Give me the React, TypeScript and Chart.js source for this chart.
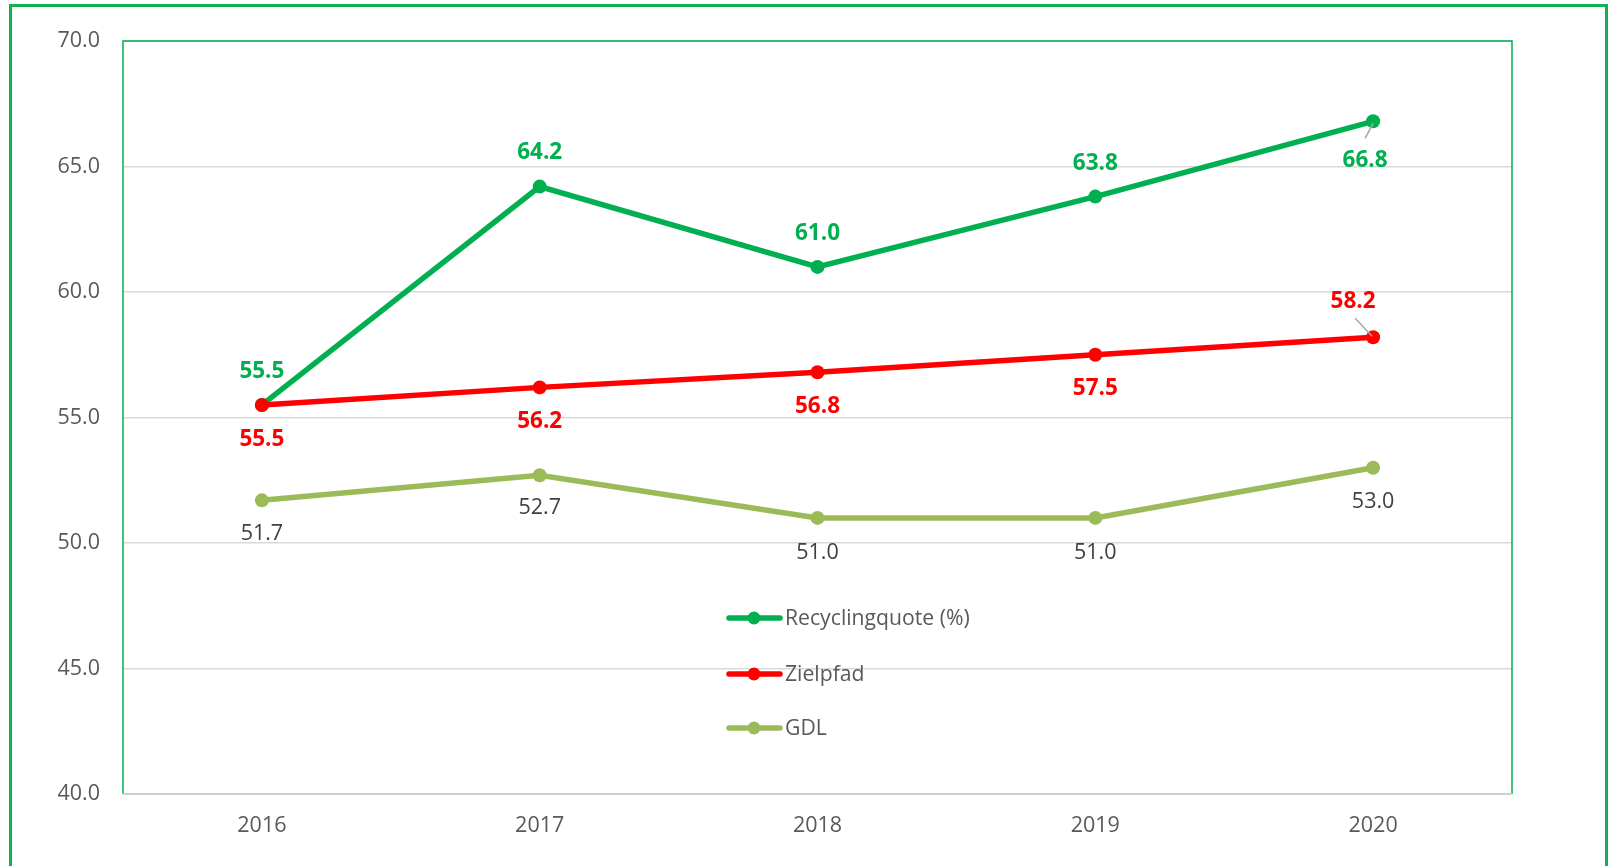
import React, { useEffect, useRef } from "react";
import { Chart, registerables } from "chart.js";

Chart.register(...registerables);

const years = ["2016", "2017", "2018", "2019", "2020"];
const recycling = [55.5, 64.2, 61.0, 63.8, 66.8];
const zielpfad = [55.5, 56.2, 56.8, 57.5, 58.2];
const gdl = [51.7, 52.7, 51.0, 51.0, 53.0];
const seriesNames = ["Recyclingquote (%)", "Zielpfad", "GDL"];

const GREEN = "#00b050";
const RED = "#ff0000";
const OLIVE = "#9bbb59";
const TEXT = "#595959";
const FONT = "'Open Sans', Lato, sans-serif";

// label placement (style only): dx, dy from point, leader line flag
const labelPlacement = [
  [{ dx: 0, dy: -33 }, { dx: 0, dy: -34 }, { dx: 0, dy: -33 }, { dx: 0, dy: -33 }, { dx: -8, dy: 39, leader: true }],
  [{ dx: 0, dy: 35 }, { dx: 0, dy: 34 }, { dx: 0, dy: 34 }, { dx: 0, dy: 34 }, { dx: -20, dy: -36, leader: true }],
  [{ dx: 0, dy: 34 }, { dx: 0, dy: 33 }, { dx: 0, dy: 35 }, { dx: 0, dy: 35 }, { dx: 0, dy: 34 }],
];
const labelStyle = [
  { color: GREEN, weight: "bold", size: 22.5 },
  { color: RED, weight: "bold", size: 22.5 },
  { color: "#404040", weight: "normal", size: 21.5 },
];

const frame = {
  id: "frame",
  beforeDatasetsDraw(chart: any) {
    const { ctx, chartArea: a } = chart;
    ctx.save();
    ctx.lineWidth = 1.5;
    ctx.strokeStyle = GREEN;
    ctx.beginPath();
    ctx.moveTo(a.left, a.bottom);
    ctx.lineTo(a.left, a.top);
    ctx.lineTo(a.right, a.top);
    ctx.lineTo(a.right, a.bottom);
    ctx.stroke();
    ctx.strokeStyle = "#c9d3ce";
    ctx.lineWidth = 2;
    ctx.beginPath();
    ctx.moveTo(a.left, a.bottom);
    ctx.lineTo(a.right, a.bottom);
    ctx.stroke();
    ctx.restore();
  },
};

const dataLabels = {
  id: "dataLabels",
  afterDatasetsDraw(chart: any) {
    const { ctx } = chart;
    ctx.save();
    ctx.textAlign = "center";
    ctx.textBaseline = "middle";
    chart.data.datasets.forEach((ds: any, di: number) => {
      const meta = chart.getDatasetMeta(di);
      const st = labelStyle[di];
      ctx.font = `${st.weight} ${st.size}px ${FONT}`;
      meta.data.forEach((pt: any, i: number) => {
        const p = labelPlacement[di][i];
        const x = pt.x + p.dx;
        const y = pt.y + p.dy;
        if (p.leader) {
          ctx.strokeStyle = "#a6a6a6";
          ctx.lineWidth = 1.5;
          ctx.beginPath();
          const sx = pt.x;
          const sy = pt.y;
          const ex = x + (p.dx < -10 ? 2 : 0);
          const ey = y + (p.dy > 0 ? -22 : 17);
          ctx.moveTo(sx + (p.dx < -10 ? -1 : 0), sy + (p.dy > 0 ? 2 : -1));
          ctx.lineTo(ex, ey);
          ctx.stroke();
        }
        ctx.fillStyle = st.color;
        ctx.fillText(Number(ds.data[i]).toFixed(1), x, y);
      });
    });
    ctx.restore();
  },
};

const legendBox = {
  id: "legendBox",
  afterDraw(chart: any) {
    const { ctx } = chart;
    const colors = [GREEN, RED, OLIVE];
    const ys = [618, 674, 728];
    ctx.save();
    ctx.font = `normal 21.2px ${FONT}`;
    ctx.textBaseline = "middle";
    ctx.textAlign = "left";
    seriesNames.forEach((name, i) => {
      const y = ys[i];
      ctx.strokeStyle = colors[i];
      ctx.lineWidth = 5.5;
      ctx.lineCap = "round";
      ctx.beginPath();
      ctx.moveTo(729, y);
      ctx.lineTo(780, y);
      ctx.stroke();
      ctx.fillStyle = colors[i];
      ctx.beginPath();
      ctx.arc(754, y, 6.5, 0, Math.PI * 2);
      ctx.fill();
      ctx.fillStyle = TEXT;
      ctx.fillText(name, 785, y + 1);
    });
    ctx.restore();
  },
};

export default function App() {
  const ref = useRef<HTMLCanvasElement>(null);
  useEffect(() => {
    document.body.style.margin = "0";
    const ds = (label: string, data: number[], color: string, order: number) => ({
      label,
      data,
      borderColor: color,
      backgroundColor: color,
      borderWidth: 5.5,
      pointRadius: 7,
      pointBorderWidth: 0,
      pointBackgroundColor: color,
      tension: 0,
      order,
    });
    const chart = new Chart(ref.current!, {
      type: "line",
      data: {
        labels: years,
        datasets: [
          ds(seriesNames[0], recycling, GREEN, 1),
          ds(seriesNames[1], zielpfad, RED, 0),
          ds(seriesNames[2], gdl, OLIVE, 2),
        ],
      },
      options: {
        responsive: false,
        animation: false,
        devicePixelRatio: 1,
        layout: { padding: { top: 41, right: 98, bottom: 0, left: 0 } },
        plugins: { legend: { display: false }, tooltip: { enabled: false } },
        scales: {
          x: {
            offset: true,
            grid: { display: false, drawTicks: false },
            border: { display: false },
            ticks: { color: TEXT, font: { family: FONT, size: 21.5 }, padding: 19 },
            afterFit: (s: any) => { s.height = 72; },
          },
          y: {
            min: 40,
            max: 70,
            grid: { color: "#d9d9d9", lineWidth: 1.5, drawTicks: false },
            border: { display: false },
            ticks: {
              stepSize: 5,
              color: TEXT,
              font: { family: FONT, size: 21.5 },
              padding: 23,
              callback: (v: any) => Number(v).toFixed(1),
            },
            afterFit: (s: any) => { s.width = 123; },
          },
        },
      },
      plugins: [frame, dataLabels, legendBox],
    });
    return () => chart.destroy();
  }, []);
  return (
    <div style={{ position: "relative", width: 1610, height: 866, overflow: "hidden", background: "#fff" }}>
      <canvas ref={ref} width={1610} height={866} style={{ position: "absolute", left: 0, top: 0 }} />
      <div
        style={{
          position: "absolute",
          left: 9,
          top: 4,
          width: 1599,
          height: 920,
          border: "3px solid #12b152",
          boxSizing: "border-box",
          pointerEvents: "none",
        }}
      />
    </div>
  );
}
